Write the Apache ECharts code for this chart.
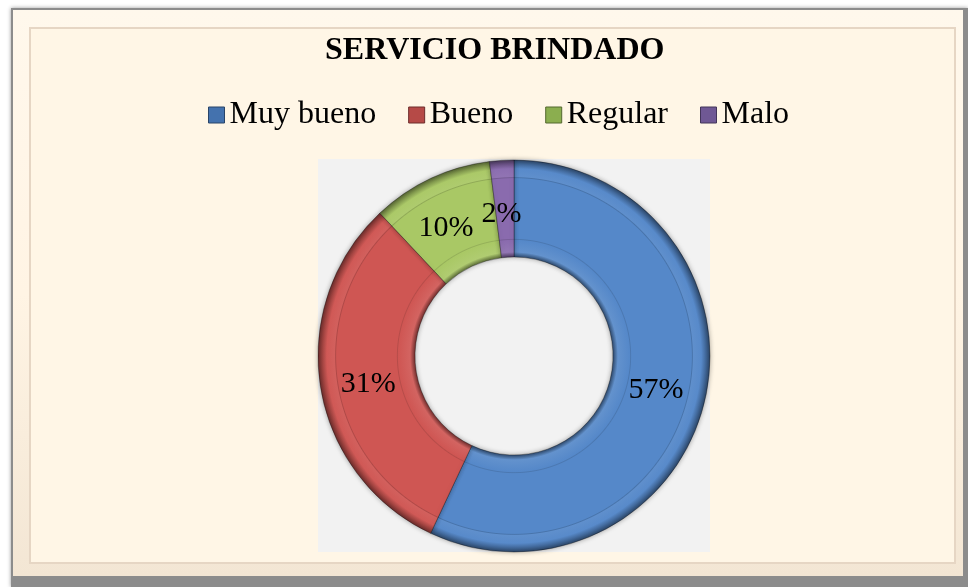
<!DOCTYPE html>
<html>
<head>
<meta charset="utf-8">
<script src="https://cdn.jsdelivr.net/npm/echarts@6/dist/echarts.min.js"></script>
<style>
html,body{margin:0;padding:0;background:#ffffff;}
#chart{width:968px;height:587px;}
</style>
</head>
<body>
<div id="chart"></div>
<script>
var categories = ['Muy bueno', 'Bueno', 'Regular', 'Malo'];
var values = [57, 31, 10, 2];
var titleText = 'SERVICIO BRINDADO';

// styles
var colors = ['#5588C9', '#CF5653', '#A9C865', '#8A6BAE'];
var legendColors = ['#4472AE', '#B64A47', '#8BAE4F', '#6F5894'];
var labelOffsets = [[-5, 1], [3, 5], [-4, 8], [-3, 8]];

function shade(hex, f) {
  var n = parseInt(hex.slice(1), 16);
  var r = (n >> 16) & 255, g = (n >> 8) & 255, b = n & 255;
  function c(v) {
    v = f < 0 ? v * (1 + f) : v + (255 - v) * f;
    return Math.max(0, Math.min(255, Math.round(v)));
  }
  return 'rgb(' + c(r) + ',' + c(g) + ',' + c(b) + ')';
}

var CX = 514, CY = 356, R0 = 99, R1 = 196;
function bevel(col) {
  var a = R0 / R1;
  return new echarts.graphic.RadialGradient(CX, CY, R1, [
    { offset: a, color: shade(col, -0.45) },
    { offset: a + 0.025, color: shade(col, 0.08) },
    { offset: a + 0.085, color: col },
    { offset: a + 0.09, color: shade(col, -0.12) },
    { offset: a + 0.095, color: col },
    { offset: 0.905, color: col },
    { offset: 0.91, color: shade(col, -0.15) },
    { offset: 0.915, color: shade(col, 0.06) },
    { offset: 0.955, color: shade(col, 0.02) },
    { offset: 0.98, color: shade(col, -0.25) },
    { offset: 1, color: shade(col, -0.5) }
  ], true);
}

var chart = echarts.init(document.getElementById('chart'));
var data = categories.map(function (c, i) {
  return {
    name: c,
    value: values[i],
    itemStyle: { color: bevel(colors[i]) },
    label: { offset: labelOffsets[i] }
  };
});
var legendData = categories.map(function (c, i) {
  return { name: c, itemStyle: { color: legendColors[i], borderColor: shade(legendColors[i], -0.4), borderWidth: 1 } };
});
var serif = '"Liberation Serif", "Times New Roman", serif';
chart.setOption({
  animation: false,
  backgroundColor: '#ffffff',
  graphic: [
    { type: 'rect', z: -10, shape: { x: 11, y: 8, width: 957, height: 579 },
      style: { fill: '#8c8c8c', shadowBlur: 4, shadowColor: 'rgba(0,0,0,0.4)' } },
    { type: 'rect', z: -9, shape: { x: 13, y: 10, width: 950, height: 566 },
      style: { fill: new echarts.graphic.LinearGradient(0, 0, 0, 1, [
        { offset: 0, color: '#FFF8EC' }, { offset: 0.5, color: '#FFF4E4' }, { offset: 1, color: '#F3E6D4' }]) } },
    { type: 'rect', z: -8, shape: { x: 30, y: 28, width: 925, height: 535 },
      style: { fill: '#FFF6E6', stroke: '#E6D6C4', lineWidth: 2 } },
    { type: 'rect', z: -7, shape: { x: 318, y: 159, width: 392, height: 393 },
      style: { fill: '#F2F2F2' } }
  ],
  title: {
    text: titleText,
    left: 320,
    top: 30,
    textStyle: { fontFamily: serif, fontSize: 32, fontWeight: 'bold', color: '#000000' }
  },
  legend: {
    data: legendData,
    left: 203,
    top: 94,
    itemWidth: 16,
    itemHeight: 16,
    itemGap: 32,
    icon: 'rect',
    textStyle: { fontFamily: serif, fontSize: 32, color: '#000000', padding: [0, 0, 0, 0] }
  },
  series: [{
    type: 'pie',
    center: [CX, CY],
    radius: [R0, R1],
    startAngle: 90,
    clockwise: true,
    avoidLabelOverlap: false,
    data: data,
    itemStyle: {
      borderColor: 'rgba(0,0,0,0.3)',
      borderWidth: 1,
      shadowBlur: 5,
      shadowColor: 'rgba(0,0,0,0.35)'
    },
    label: {
      show: true,
      position: 'inside',
      formatter: '{c}%',
      fontFamily: serif,
      fontSize: 30,
      color: '#000000'
    },
    labelLine: { show: false },
    emphasis: { disabled: true }
  }]
});
</script>
</body>
</html>
